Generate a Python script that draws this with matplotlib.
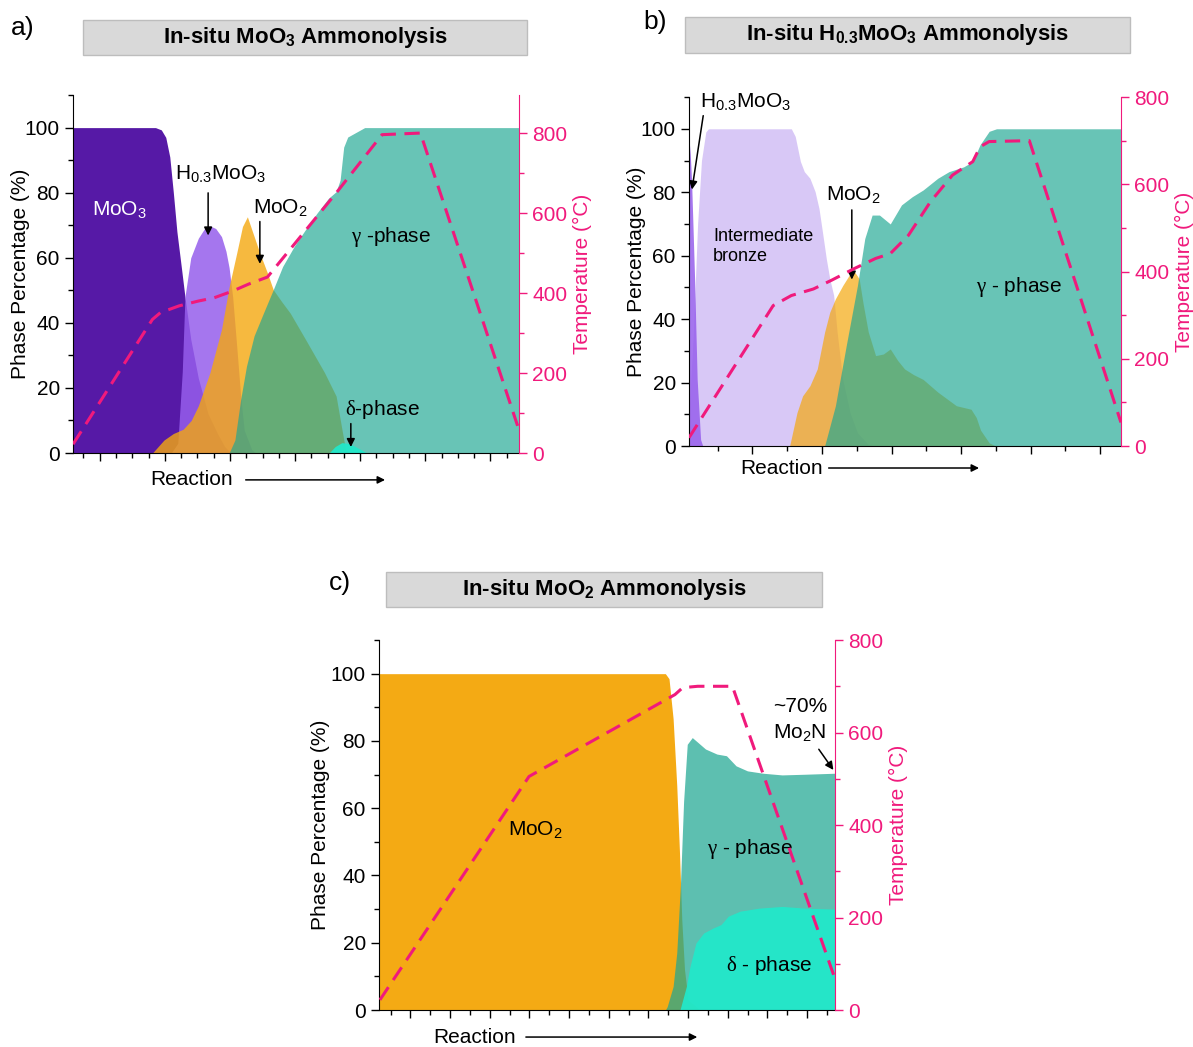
import numpy as np
import matplotlib
matplotlib.use("Agg")
import matplotlib.pyplot as plt
from matplotlib.patches import Rectangle
from matplotlib.ticker import FixedLocator, MultipleLocator

plt.rcParams.update({
    "font.family": ["Liberation Sans", "DejaVu Sans"],
    "font.size": 15,
    "mathtext.fontset": "custom",
    "mathtext.rm": "Liberation Sans",
    "mathtext.it": "Liberation Serif",
    "mathtext.bf": "Liberation Sans:bold",
})

PINK = "#F01A7C"
C_MOO3 = "#5619A6"
C_H03 = "#965EEC"
C_BRONZE = "#CCB6F4"
C_MOO2 = "#F4A80F"
C_GAM = "#1EA792"
C_DEL = "#22E8CA"

# ---- panel a: MoO3 ammonolysis (x = reaction progress, % of axis) ----
a_moo3_x = [0, 18.5, 19.8, 20.8, 21.7, 22.5, 23.3, 24.3, 25.1, 26.4, 28.1, 30.3, 32.4, 34.0, 35.0, 35.5]
a_moo3_y = [100, 100, 99.3, 97, 91, 80, 68, 57, 48, 35, 23, 12, 6, 2, 0.6, 0]
a_h03_x = [22.0, 23.5, 24.5, 25.1, 26.4, 28.1, 29.5, 30.7, 32.0, 33.3, 34.3, 35.0, 35.8, 36.7, 37.6, 38.4, 40.1, 41.0]
a_h03_y = [0, 3, 25, 48, 60, 66, 69, 69.8, 69, 66.5, 62, 57, 48, 33, 17.5, 7, 1, 0]
a_moo2_x = [17.8, 20.4, 22.5, 24.7, 26.5, 28.1, 30.7, 33.3, 35.0, 36.7, 38.0, 39.1, 40.1, 41.9, 43.6,
            44.9, 46.8, 48.7, 52.1, 56.4, 59.0, 60.3, 61.1, 62.0]
a_moo2_y = [0, 4, 6, 7.3, 10, 14.5, 24.7, 38, 51, 61.4, 69.6, 72.6, 68.6, 61.4, 55.3,
            50.2, 46.5, 43, 35, 24.7, 17.5, 7.3, 1.2, 0]
a_gam_x = [35.0, 36.3, 37.6, 38.9, 40.6, 42.7, 44.9, 47.0, 49.6, 52.1, 54.7, 57.3, 59.0, 59.9,
           60.7, 61.6, 63.3, 65.4, 100]
a_gam_y = [0, 4, 16.5, 26.7, 36, 43, 50.2, 57.3, 63.5, 68.6, 73.7, 78.3, 80.3, 83.9,
           94, 97.1, 98.4, 100, 100]
a_del_x = [57.4, 58.8, 60.3, 62.0, 63.7, 65.9]
a_del_y = [0, 2.0, 3.2, 2.9, 1.7, 0]
a_temp_x = [0, 17.8, 19.6, 23.8, 28.1, 31.6, 35.8, 39.3, 43.6, 59.0, 69.3, 77.9, 99.7]
a_temp_y = [22, 334, 351, 368, 380, 388, 405, 422, 440, 650, 796, 800, 68]

# ---- panel b: H0.3MoO3 ammonolysis ----
b_h03_x = [0, 0.3, 0.6, 1.3, 1.9, 2.7, 3.2]
b_h03_y = [97, 92, 84, 53, 21, 2, 0]
b_bronze_x = [0, 1.0, 2.0, 2.9, 3.9, 4.5, 23.7, 24.6, 25.8, 26.7, 28.0, 29.2, 30.1, 30.9, 31.8,
              32.6, 33.5, 34.3, 35.6, 37.3, 39.0, 41.5, 43.0]
b_bronze_y = [10, 35, 70, 90, 99, 100, 100, 97.6, 89.7, 86.5, 84.4, 80.2, 74.9, 67.5, 59,
              52.7, 47.5, 35.9, 21, 10.5, 4.2, 0.5, 0]
b_moo2_x = [23.3, 25.0, 26.3, 28.0, 29.7, 31.4, 32.6, 33.9, 35.6, 37.3, 38.1, 39.4, 40.3, 41.5,
            43.2, 45.0, 46.6, 48.3, 49.9, 52.0, 54.2, 57.6, 61.9, 65.3, 66.5, 67.5, 69.5, 71.0]
b_moo2_y = [0, 10.5, 15.8, 19, 24.3, 35.9, 42.2, 46.4, 50.6, 54.3, 55.4, 52.7, 45, 36,
            28.5, 29, 30.6, 27, 24.3, 22.5, 21, 17, 12.7, 11.6, 9, 5, 1, 0]
b_gam_x = [31.4, 33.9, 36.4, 39.0, 40.7, 42.4, 44.1, 46.6, 49.2, 51.7, 54.2, 57.6, 60.2, 63.6,
           65.7, 67.4, 69.5, 71.2, 100]
b_gam_y = [0, 12.7, 31.6, 50.6, 65.4, 72.8, 72.8, 70, 76, 78.6, 80.7, 84.4, 86.5, 88,
           89.7, 95, 99.2, 100, 100]
b_temp_x = [0, 19.5, 23.7, 28.8, 33.0, 38.1, 43.2, 46.6, 50.8, 55.9, 61.0, 65.7, 67.4, 69.5, 78.8, 100]
b_temp_y = [19, 322, 345, 360, 380, 406, 430, 441, 483, 560, 621, 652, 686, 698, 700, 54]

# ---- panel c: MoO2 ammonolysis ----
c_moo2_x = [0, 62.8, 63.6, 64.5, 65.3, 65.9, 66.4, 67.0, 67.8, 70.0, 70.5]
c_moo2_y = [100, 100, 98.5, 86.6, 66.7, 46.8, 26.9, 12, 3, 0.5, 0]
c_gam_x = [62.8, 63.2, 64.5, 65.3, 66.1, 66.8, 67.6, 68.7, 69.9, 71.6, 74.1, 76.2, 78.3, 80.8,
           84.2, 88.4, 93.4, 100]
c_gam_y = [0, 1, 7, 17, 37, 62, 79, 81, 79.6, 77.6, 76.1, 75.6, 72.6, 71.1,
           70.4, 69.9, 70.1, 70.4]
c_del_x = [66.0, 67.4, 68.2, 69.5, 71.2, 73.3, 75.0, 76.6, 79.2, 83.4, 88.4, 93.4, 100]
c_del_y = [0, 7, 12.9, 19.9, 22.9, 24.4, 25.4, 27.9, 29.4, 30.3, 30.8, 30.3, 30]
c_temp_x = [0.2, 32.9, 64.9, 66.6, 69.9, 77.5, 99.7]
c_temp_y = [22, 505, 682, 697, 700, 700, 76]


def setup(ax, t_max, majors, minors, react_pos, ypad):
    ax.set_xlim(0, 100)
    ax.set_ylim(0, 110)
    ax.yaxis.set_major_locator(FixedLocator([0, 20, 40, 60, 80, 100]))
    ax.yaxis.set_minor_locator(MultipleLocator(10))
    ax.xaxis.set_major_locator(FixedLocator(majors))
    ax.xaxis.set_minor_locator(FixedLocator(minors))
    ax.tick_params(axis="x", which="both", labelbottom=False, direction="out")
    ax.tick_params(which="major", length=6, width=1)
    ax.tick_params(which="minor", length=3.5, width=1)
    ax.tick_params(axis="y", labelsize=15)
    for s in ("top", "right"):
        ax.spines[s].set_visible(False)
    ax.set_ylabel("Phase Percentage (%)", fontsize=15, labelpad=ypad)

    tw = ax.twinx()
    tw.set_ylim(0, t_max)
    tw.yaxis.set_major_locator(FixedLocator([0, 200, 400, 600, 800]))
    tw.yaxis.set_minor_locator(MultipleLocator(100))
    tw.spines["right"].set_color(PINK)
    for s in ("top", "left", "bottom"):
        tw.spines[s].set_visible(False)
    tw.tick_params(axis="y", which="both", colors=PINK, labelsize=15)
    tw.tick_params(which="major", length=6, width=1)
    tw.tick_params(which="minor", length=3.5, width=1)
    tw.set_ylabel("Temperature (°C)", color=PINK, fontsize=15)

    lx, ly, ax0, ax1 = react_pos
    ax.text(lx, ly, "Reaction", transform=ax.transAxes, ha="left", va="center", fontsize=15)
    ax.annotate("", xy=(ax1, ly), xytext=(ax0, ly), xycoords="axes fraction",
                arrowprops=dict(arrowstyle="-|>", lw=1.1, color="black", mutation_scale=11),
                annotation_clip=False)
    return tw


def arrow(ax, x0, y0, x1, y1):
    ax.annotate("", xy=(x1, y1), xytext=(x0, y0),
                arrowprops=dict(arrowstyle="-|>", lw=1.1, color="black", mutation_scale=12))


def dashed(tw, x, y):
    tw.plot(x, y, color=PINK, lw=2.2, linestyle=(0, (5, 2.8)))


fig = plt.figure(figsize=(11.93, 10.47), dpi=100)

# panel a
ax = fig.add_axes([0.0612, 0.5673, 0.3738, 0.3419])
tw = setup(ax, 895, np.arange(6.0, 100, 14.6), np.arange(6.0 - 3.65, 100, 3.65),
           (0.173, -0.075, 0.381, 0.706), -4)
ax.fill_between(a_moo3_x, a_moo3_y, 0, color=C_MOO3, lw=0)
ax.fill_between(a_h03_x, a_h03_y, 0, color=C_H03, alpha=0.85, lw=0)
ax.fill_between(a_moo2_x, a_moo2_y, 0, color=C_MOO2, alpha=0.8, lw=0)
ax.fill_between(a_gam_x, a_gam_y, 0, color=C_GAM, alpha=0.67, lw=0)
ax.fill_between(a_del_x, a_del_y, 0, color=C_DEL, alpha=0.95, lw=0)
dashed(tw, a_temp_x, a_temp_y)
ax.text(10.5, 74.7, "MoO$_3$", color="white", ha="center", va="center", fontsize=15)
ax.text(33.0, 85.9, "H$_{0.3}$MoO$_3$", ha="center", va="center", fontsize=15)
arrow(ax, 30.3, 80.8, 30.3, 66)
ax.text(46.6, 75.5, "MoO$_2$", ha="center", va="center", fontsize=15)
arrow(ax, 41.9, 72, 41.9, 57.3)
ax.text(71.3, 66.3, r"$\gamma$ -phase", ha="center", va="center", fontsize=15)
ax.text(69.3, 13.5, r"$\delta$-phase", ha="center", va="center", fontsize=15)
arrow(ax, 62.3, 9.9, 62.3, 1)

# panel b
ax = fig.add_axes([0.5775, 0.5740, 0.3621, 0.3333])
tw = setup(ax, 800, np.arange(14.7, 100, 16.1), np.arange(14.7 - 8.05, 100, 8.05),
           (0.118, -0.063, 0.317, 0.678), -4)
ax.fill_between(b_bronze_x, b_bronze_y, 0, color=C_BRONZE, alpha=0.75, lw=0)
ax.fill_between(b_h03_x, b_h03_y, 0, color=C_H03, alpha=0.85, lw=0)
ax.fill_between(b_moo2_x, b_moo2_y, 0, color=C_MOO2, alpha=0.7, lw=0)
ax.fill_between(b_gam_x, b_gam_y, 0, color=C_GAM, alpha=0.67, lw=0)
dashed(tw, b_temp_x, b_temp_y)
ax.text(2.5, 108.5, "H$_{0.3}$MoO$_3$", ha="left", va="center", fontsize=15)
arrow(ax, 3.4, 105, 0.6, 80)
ax.text(5.6, 63, "Intermediate\nbronze", ha="left", va="center", fontsize=13, linespacing=1.25)
ax.text(38.0, 79.4, "MoO$_2$", ha="center", va="center", fontsize=15)
arrow(ax, 37.7, 75.3, 37.7, 51.6)
ax.text(76.4, 50, r"$\gamma$ - phase", ha="center", va="center", fontsize=15)

# panel c
ax = fig.add_axes([0.3177, 0.0353, 0.3822, 0.3534])
tw = setup(ax, 800, np.arange(6.9, 100, 8.7), np.arange(6.9 - 4.35, 100, 4.35),
           (0.118, -0.073, 0.316, 0.704), 0.5)
ax.fill_between(c_moo2_x, c_moo2_y, 0, color=C_MOO2, alpha=0.98, lw=0)
ax.fill_between(c_gam_x, c_gam_y, 0, color=C_GAM, alpha=0.72, lw=0)
ax.fill_between(c_del_x, c_del_y, 0, color=C_DEL, alpha=0.95, lw=0)
dashed(tw, c_temp_x, c_temp_y)
ax.text(34.4, 53.7, "MoO$_2$", ha="center", va="center", fontsize=15)
ax.text(81.4, 47.8, r"$\gamma$ - phase", ha="center", va="center", fontsize=15)
ax.text(85.5, 13.1, r"$\delta$ - phase", ha="center", va="center", fontsize=15)
ax.text(98.3, 90.1, "~70%", ha="right", va="center", fontsize=15)
ax.text(98.0, 82.4, "Mo$_2$N", ha="right", va="center", fontsize=15)
arrow(ax, 96.1, 78.2, 100, 70.7)

# title boxes and panel letters
titles = [
    ((0.0696, 0.9475, 0.3722, 0.0334), r"In-situ MoO$_\mathbf{3}$ Ammonolysis"),
    ((0.5742, 0.9494, 0.3730, 0.0344), r"In-situ H$_\mathbf{0.3}$MoO$_\mathbf{3}$ Ammonolysis"),
    ((0.3236, 0.4202, 0.3655, 0.0334), r"In-situ MoO$_\mathbf{2}$ Ammonolysis"),
]
for (x0, y0, w, h), txt in titles:
    fig.patches.append(Rectangle((x0, y0), w, h, transform=fig.transFigure,
                                 facecolor="#D9D9D9", edgecolor="#BDBDBD", lw=1))
    fig.text(x0 + w / 2, y0 + h / 2, txt, ha="center", va="center",
             fontsize=16, fontweight="bold")

for x, y, s in [(23, 28, "a)"), (655, 22, "b)"), (340, 583, "c)")]:
    fig.text(x / 1193, 1 - y / 1047, s, ha="center", va="center", fontsize=19)

fig.savefig("out.png", dpi=100)
